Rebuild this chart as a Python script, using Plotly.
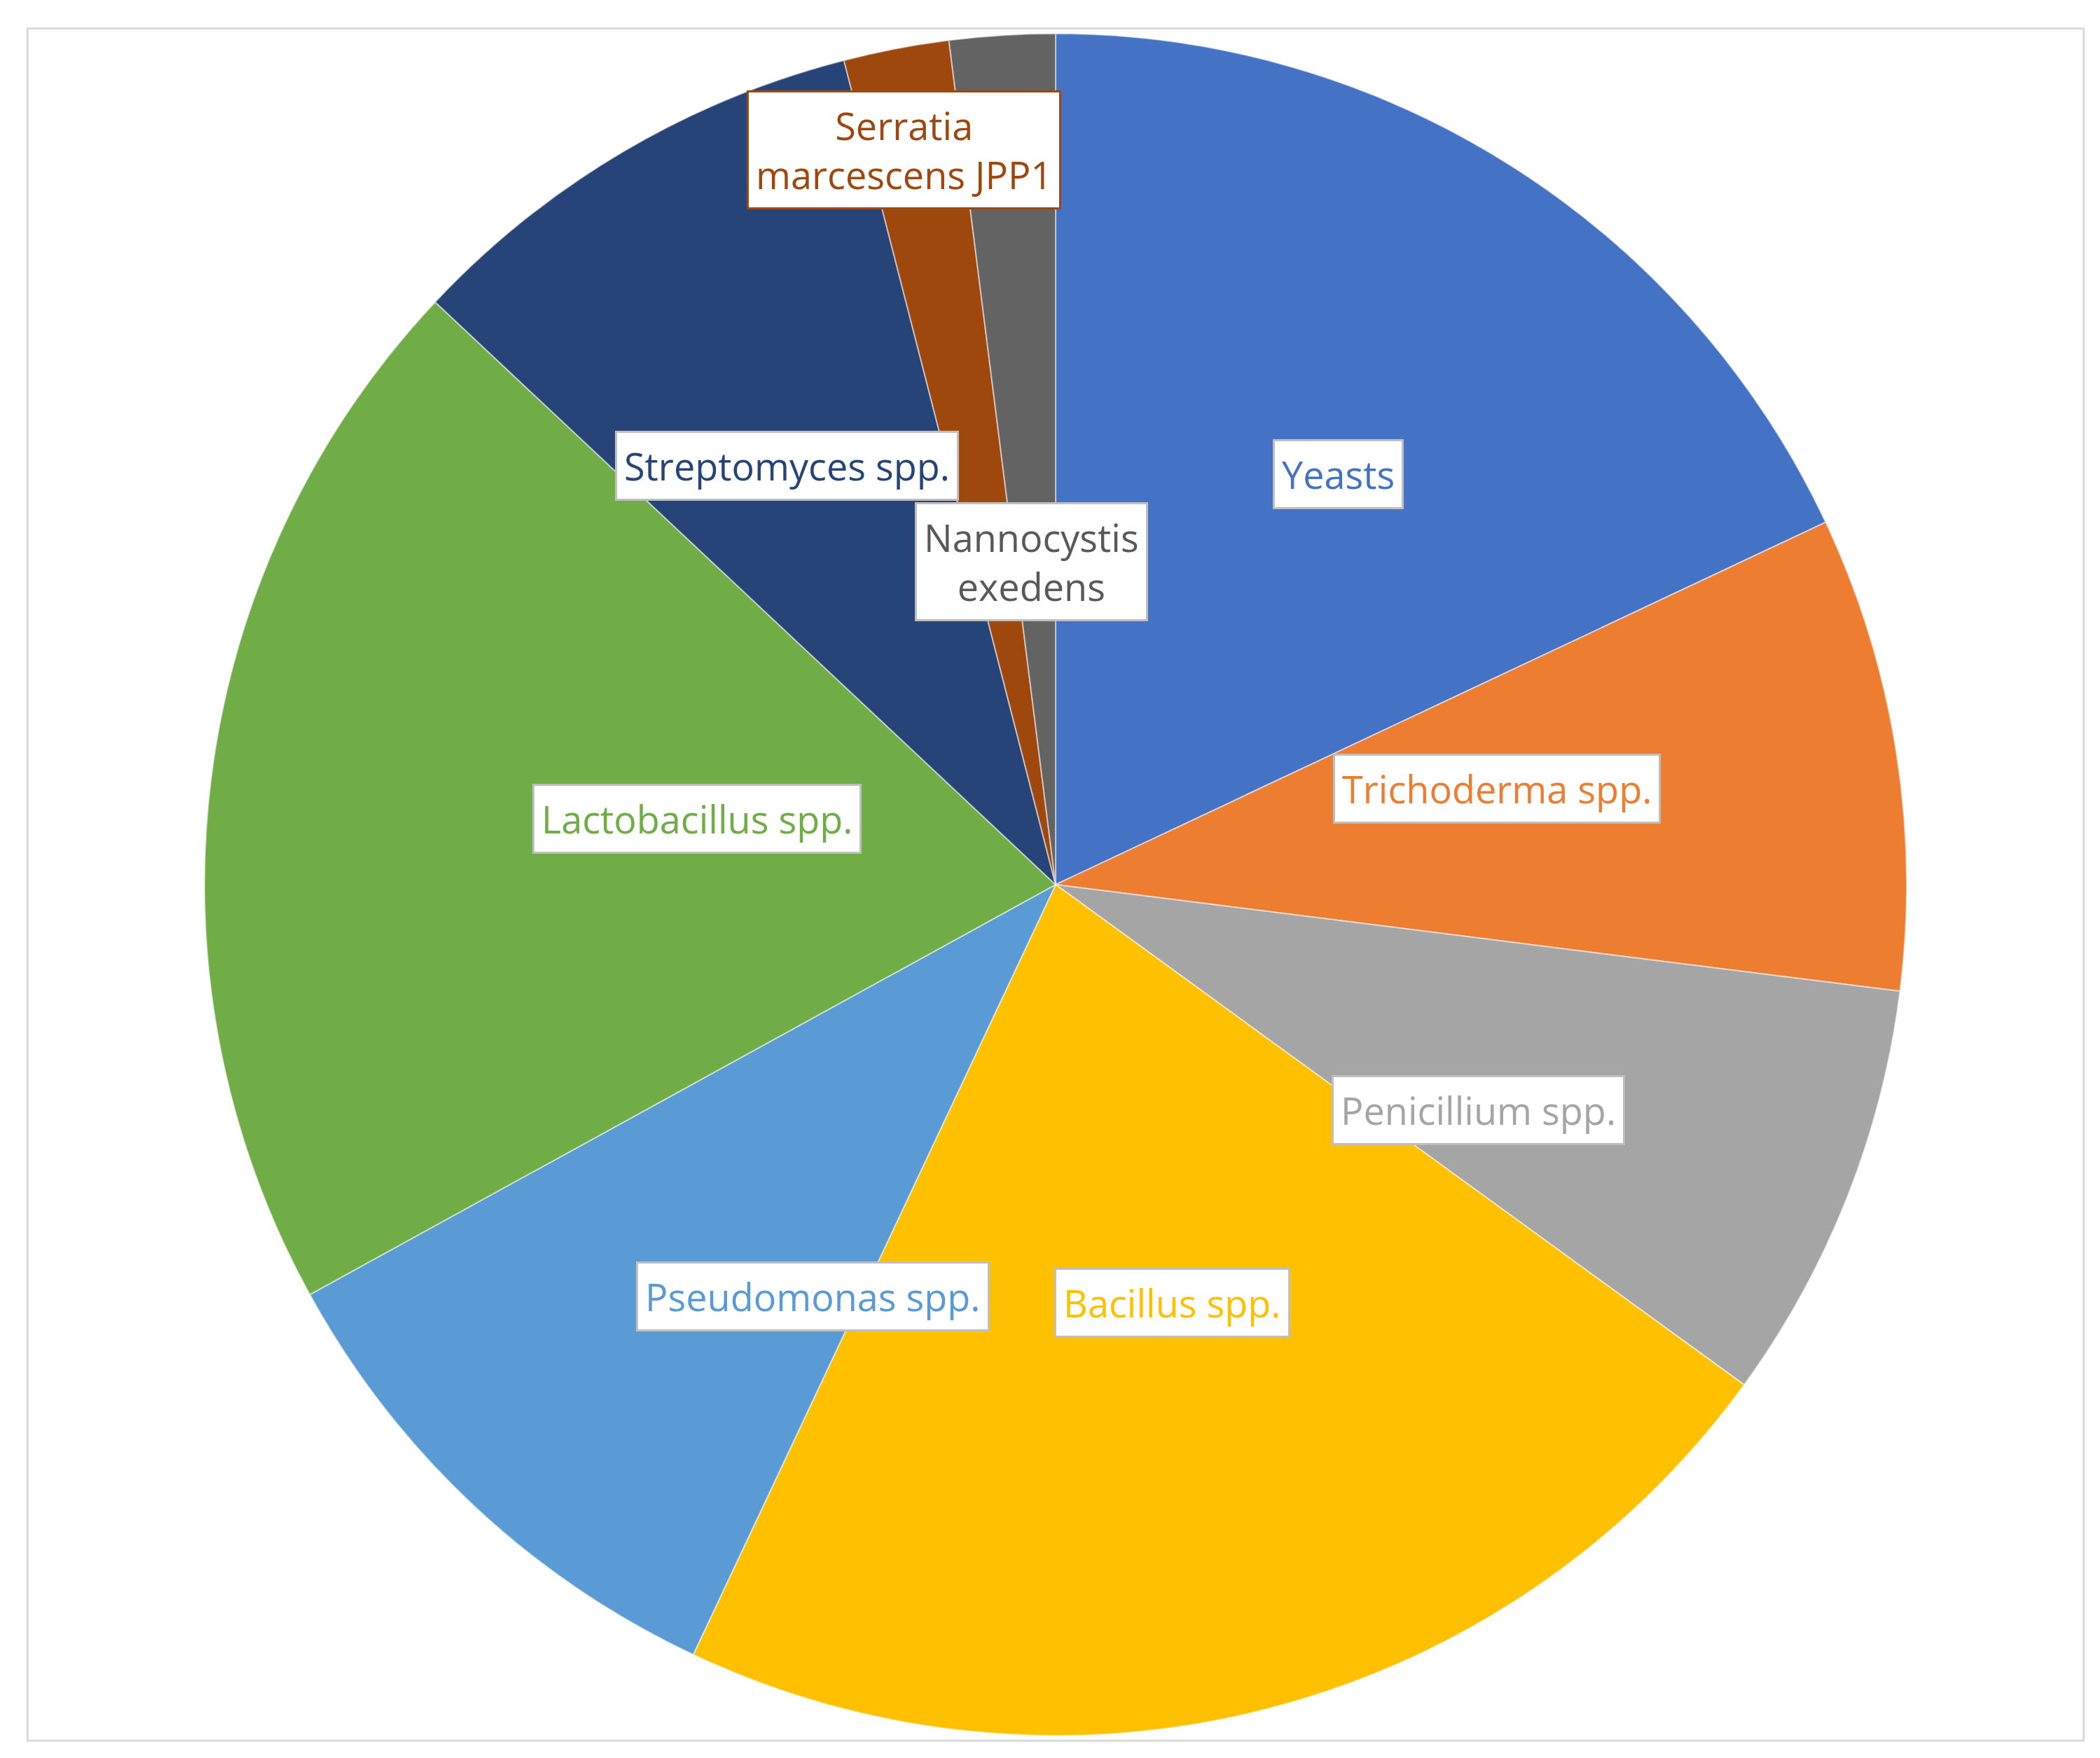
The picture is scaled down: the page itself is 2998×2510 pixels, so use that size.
import math
import plotly.graph_objects as go

labels = ["Yeasts", "Trichoderma spp.", "Penicillium spp.", "Bacillus spp.", "Pseudomonas spp.",
          "Lactobacillus spp.", "Streptomyces spp.", "Serratia<br>marcescens JPP1", "Nannocystis<br>exedens"]
values = [18, 9, 8, 22, 10, 20, 9, 2, 2]
colors = ["#4472C4", "#ED7D31", "#A5A5A5", "#FFC000", "#5B9BD5",
          "#70AD47", "#264478", "#9E480E", "#636363"]
label_colors = ["#4472C4", "#ED7D31", "#A5A5A5", "#FFC000", "#5B9BD5",
                "#70AD47", "#264478", "#9E480E", "#595959"]
label_radius = [0.62, 0.72, 0.72, 0.55, 0.72, 0.62, 0.62, 0.95, 0.45]

W, H = 2998, 2510
M = 40
fig = go.Figure(go.Pie(
    labels=labels, values=values, sort=False, direction="clockwise", rotation=0,
    marker=dict(colors=colors, line=dict(color="rgba(255,255,255,0.5)", width=2)),
    textinfo="none", hoverinfo="label+value", showlegend=False,
))

pw, ph = W - 2 * M, H - 2 * M
R = min(pw, ph) / 2
total = sum(values)
cum = 0
for lab, v, c, rf in zip(labels, values, label_colors, label_radius):
    mid = (cum + v / 2) / total * 2 * math.pi
    cum += v
    x = 0.5 + rf * R * math.sin(mid) / pw
    y = 0.5 + rf * R * math.cos(mid) / ph
    fig.add_annotation(x=x, y=y, xref="paper", yref="paper", text=lab, showarrow=False,
                       font=dict(size=54, color=c, family="Open Sans"),
                       bgcolor="white", bordercolor="#BFBFBF" if c != "#9E480E" else "#9E480E",
                       borderwidth=3, borderpad=10)

fig.add_shape(type="rect", xref="paper", yref="paper", x0=-0.003, y0=-0.003, x1=1.003, y1=1.003,
              line=dict(color="#D9D9D9", width=3))
fig.update_layout(width=W, height=H, margin=dict(l=M, r=M, t=M, b=M),
                  paper_bgcolor="white", plot_bgcolor="white")
fig.write_html("out.html")
